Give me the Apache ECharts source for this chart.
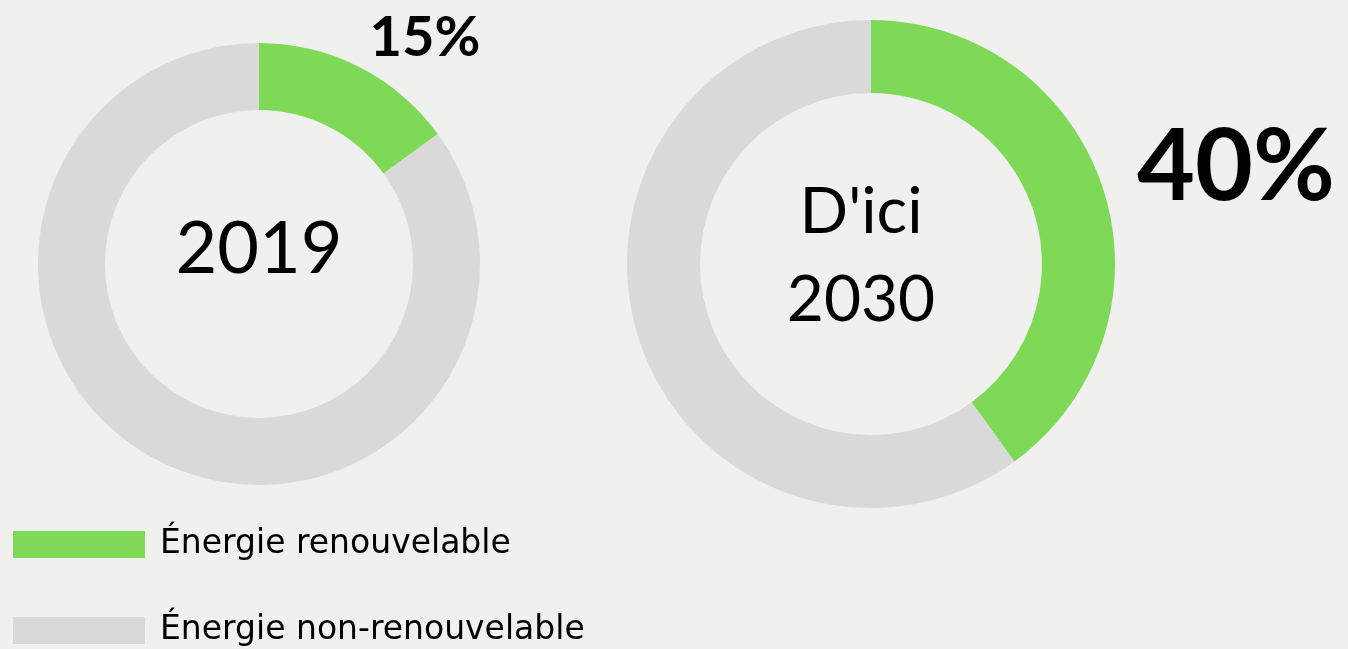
<!DOCTYPE html>
<html>
<head>
<meta charset="utf-8">
<style>
  html, body { margin: 0; padding: 0; background: #f0f0ee; }
  #chart { width: 1348px; height: 649px; }
</style>
<script src="https://cdn.jsdelivr.net/npm/echarts@6/dist/echarts.min.js"></script>
</head>
<body>
<div id="chart"></div>
<script>
const categories = ["Énergie renouvelable", "Énergie non-renouvelable"];
const values2019 = [15, 85];
const values2030 = [40, 60];
const centerLabels = ["2019", "D'ici\n2030"];

const colors = ["#7ed957", "#d9d9d9"];
const fontFamily = "Lato, 'Noto Sans', sans-serif";
const legendFont = "'DejaVu Sans', sans-serif";

const chart = echarts.init(document.getElementById("chart"));

function pieSeries(values, center, radius) {
  return {
    type: "pie",
    center: center,
    radius: radius,
    startAngle: 90,
    silent: true,
    label: { show: false },
    labelLine: { show: false },
    emphasis: { disabled: true },
    data: categories.map((name, i) => ({
      name: name,
      value: values[i],
      itemStyle: { color: colors[i] },
    })),
  };
}

// one legend per row, stacked
function legendRow(name, top) {
  return {
    left: 8,
    top: top,
    itemWidth: 132,
    itemHeight: 27,
    icon: "rect",
    data: [name],
    textStyle: {
      fontFamily: legendFont,
      fontSize: 33,
      color: "#000",
      padding: [0, 0, 7, 10],
    },
  };
}

function centerText(text, x, y, font, extra) {
  return {
    type: "text",
    x: x,
    y: y,
    style: Object.assign({
      text: text,
      font: font,
      fill: "#000",
      align: "center",
      verticalAlign: "middle",
    }, extra || {}),
  };
}

chart.setOption({
  backgroundColor: "#f0f0ee",
  animation: false,
  legend: [legendRow(categories[0], 523), legendRow(categories[1], 609)],
  graphic: [
    centerText(centerLabels[0], 259, 250, "400 72px " + fontFamily),
    centerText(centerLabels[1], 861, 256, "400 64px " + fontFamily, { lineHeight: 88 }),
    centerText(values2019[0] + "%", 425, 38, "700 56px " + fontFamily),
    centerText(values2030[0] + "%", 1236, 168, "700 100px " + fontFamily),
  ],
  series: [
    pieSeries(values2019, [259, 264], [154, 221]),
    pieSeries(values2030, [871, 264], [171, 244]),
  ],
});
</script>
</body>
</html>
